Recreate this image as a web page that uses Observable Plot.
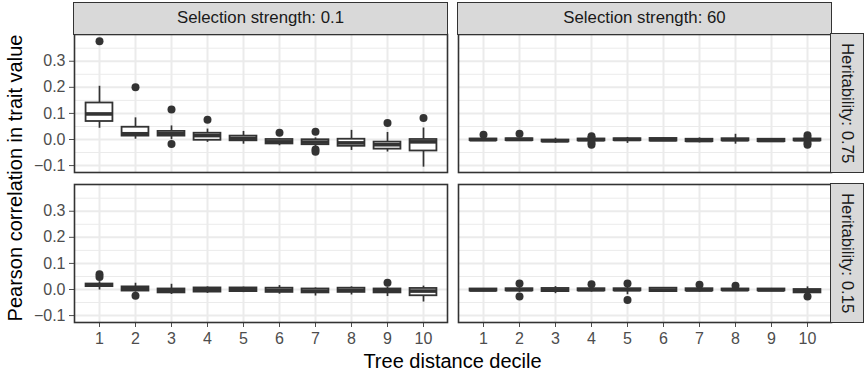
<!DOCTYPE html>
<html><head><meta charset="utf-8">
<script src="https://cdn.jsdelivr.net/npm/d3@7"></script>
<script src="https://cdn.jsdelivr.net/npm/@observablehq/plot@0.6"></script>
<style>
body{margin:0;background:#fff;}
#chart{position:relative;width:865px;height:374px;font-family:"Liberation Sans",Arial,sans-serif;overflow:hidden;background:#fff;}
.strip{position:absolute;box-sizing:border-box;background:#D9D9D9;border:1.6px solid #333;color:#1A1A1A;font-size:16.8px;display:flex;align-items:center;justify-content:center;white-space:nowrap;}
.vstrip{writing-mode:vertical-rl;}
.panel{position:absolute;}
.title{position:absolute;font-size:20px;color:#000;white-space:nowrap;line-height:20px;}
</style></head><body><div id="chart"></div>
<script>
// ---------- data ----------
const deciles = [1, 2, 3, 4, 5, 6, 7, 8, 9, 10];
const selectionLabels = ["Selection strength: 0.1", "Selection strength: 60"];
const heritabilityLabels = ["Heritability: 0.75", "Heritability: 0.15"];
const xTitle = "Tree distance decile";
const yTitle = "Pearson correlation in trait value";
const yTicks = [-0.1, 0.0, 0.1, 0.2, 0.3];
const yMinorTicks = [-0.05, 0.05, 0.15, 0.25, 0.35];
const yDomain = [-0.1265, 0.4025];

// Selection 0.1, heritability 0.75
const s01h75Lower  = [0.043, 0.001, -0.001, -0.011, -0.018, -0.024, -0.028, -0.042, -0.048, -0.106];
const s01h75Q1     = [0.069, 0.013, 0.013, -0.003, -0.005, -0.017, -0.020, -0.026, -0.037, -0.044];
const s01h75Median = [0.098, 0.022, 0.022, 0.015, 0.004, -0.009, -0.010, -0.013, -0.020, -0.009];
const s01h75Q3     = [0.140, 0.047, 0.031, 0.024, 0.013, 0.000, -0.001, 0.001, -0.010, 0.000];
const s01h75Upper  = [0.204, 0.083, 0.052, 0.040, 0.031, 0.003, 0.006, 0.035, 0.027, 0.044];
const s01h75OutDecile = [1, 2, 3, 3, 4, 6, 7, 7, 7, 9, 10];
const s01h75OutValue  = [0.377, 0.200, 0.115, -0.017, 0.076, 0.026, 0.030, -0.038, -0.047, 0.063, 0.082];

// Selection 60, heritability 0.75
const s60h75Lower  = [-0.006, -0.007, -0.015, -0.010, -0.015, -0.007, -0.013, -0.018, -0.010, -0.008];
const s60h75Q1     = [-0.004, -0.004, -0.009, -0.005, -0.004, -0.006, -0.008, -0.005, -0.008, -0.005];
const s60h75Median = [-0.001, 0.000, -0.005, -0.001, 0.000, -0.001, -0.004, -0.001, -0.004, -0.001];
const s60h75Q3     = [0.002, 0.003, -0.002, 0.002, 0.003, 0.004, 0.001, 0.003, 0.001, 0.002];
const s60h75Upper  = [0.004, 0.006, 0.005, 0.008, 0.008, 0.005, 0.006, 0.020, 0.003, 0.006];
const s60h75OutDecile = [1, 2, 4, 4, 4, 4, 10, 10, 10, 10];
const s60h75OutValue  = [0.018, 0.022, 0.012, 0.006, -0.012, -0.020, 0.016, 0.006, -0.012, -0.020];

// Selection 0.1, heritability 0.15
const s01h15Lower  = [-0.002, -0.010, -0.019, -0.015, -0.012, -0.018, -0.025, -0.021, -0.027, -0.048];
const s01h15Q1     = [0.011, -0.006, -0.013, -0.010, -0.008, -0.011, -0.013, -0.011, -0.013, -0.024];
const s01h15Median = [0.017, 0.003, -0.005, -0.001, 0.000, -0.003, -0.006, -0.003, -0.005, -0.006];
const s01h15Q3     = [0.021, 0.010, 0.002, 0.006, 0.006, 0.005, 0.002, 0.005, 0.002, 0.004];
const s01h15Upper  = [0.030, 0.024, 0.020, 0.010, 0.009, 0.015, 0.006, 0.010, 0.009, 0.013];
const s01h15OutDecile = [1, 1, 2, 9];
const s01h15OutValue  = [0.058, 0.048, -0.024, 0.026];

// Selection 60, heritability 0.15
const s60h15Lower  = [-0.008, -0.012, -0.016, -0.010, -0.020, -0.010, -0.010, -0.007, -0.008, -0.018];
const s60h15Q1     = [-0.006, -0.005, -0.008, -0.005, -0.005, -0.008, -0.005, -0.004, -0.005, -0.013];
const s60h15Median = [-0.002, -0.001, -0.002, -0.001, -0.001, -0.002, -0.002, -0.001, -0.002, -0.005];
const s60h15Q3     = [0.002, 0.003, 0.004, 0.003, 0.003, 0.005, 0.003, 0.002, 0.002, 0.000];
const s60h15Upper  = [0.003, 0.010, 0.011, 0.008, 0.012, 0.006, 0.008, 0.006, 0.004, 0.010];
const s60h15OutDecile = [2, 2, 4, 5, 5, 7, 8, 10];
const s60h15OutValue  = [0.023, -0.027, 0.020, 0.023, -0.040, 0.018, 0.014, -0.027];

// ---------- layout ----------
const PW = 373, PH = 138;
const colX = [74, 458];
const rowY = [34, 184];
const INK = "#333333", GRID = "#EBEBEB";

function rows(lo, q1, med, q3, hi) {
  return deciles.map((d, i) => ({decile: d, lo: lo[i], q1: q1[i], med: med[i], q3: q3[i], hi: hi[i]}));
}
function outs(ds, vs) { return ds.map((d, i) => ({decile: d, v: vs[i]})); }

const panels = [
  {col: 0, row: 0, box: rows(s01h75Lower, s01h75Q1, s01h75Median, s01h75Q3, s01h75Upper), out: outs(s01h75OutDecile, s01h75OutValue)},
  {col: 1, row: 0, box: rows(s60h75Lower, s60h75Q1, s60h75Median, s60h75Q3, s60h75Upper), out: outs(s60h75OutDecile, s60h75OutValue)},
  {col: 0, row: 1, box: rows(s01h15Lower, s01h15Q1, s01h15Median, s01h15Q3, s01h15Upper), out: outs(s01h15OutDecile, s01h15OutValue)},
  {col: 1, row: 1, box: rows(s60h15Lower, s60h15Q1, s60h15Median, s60h15Q3, s60h15Upper), out: outs(s60h15OutDecile, s60h15OutValue)}
];

const chart = document.getElementById("chart");
const inset = PW / 10.2 * 0.125;

for (const p of panels) {
  const showY = p.col === 0, showX = p.row === 1;
  const mL = showY ? 74 : 4, mT = 4, mR = 4, mB = showX ? 44 : 4;
  const svg = Plot.plot({
    width: mL + PW + mR,
    height: mT + PH + mB,
    marginLeft: mL, marginRight: mR, marginTop: mT, marginBottom: mB,
    style: {fontSize: "16px", fontFamily: "'Liberation Sans', Arial, sans-serif", color: "#4D4D4D", background: "transparent", overflow: "visible"},
    x: {type: "band", domain: deciles, paddingInner: 0, paddingOuter: 0.1, axis: showX ? "bottom" : null, tickSize: 5, tickPadding: 5, label: null},
    y: {domain: yDomain, axis: showY ? "left" : null, ticks: yTicks, tickFormat: d3.format(".1f"), tickSize: 5, tickPadding: 4, label: null},
    marks: [
      Plot.ruleY(yMinorTicks, {stroke: GRID, strokeWidth: 1}),
      Plot.ruleY(yTicks, {stroke: GRID, strokeWidth: 2}),
      Plot.ruleX(deciles, {x: d => d, stroke: GRID, strokeWidth: 2}),
      Plot.ruleX(p.box, {x: "decile", y1: "lo", y2: "hi", stroke: INK, strokeWidth: 1.7}),
      Plot.barY(p.box, {x: "decile", y1: "q1", y2: "q3", fill: "white", stroke: INK, strokeWidth: 1.8, insetLeft: inset, insetRight: inset}),
      Plot.tickY(p.box, {x: "decile", y: "med", stroke: INK, strokeWidth: 3.6, insetLeft: inset, insetRight: inset}),
      Plot.dot(p.out, {x: "decile", y: "v", r: 4, fill: INK, stroke: null}),
      Plot.frame({stroke: INK, strokeWidth: 1.6})
    ]
  });
  svg.classList.add("panel");
  svg.style.left = (colX[p.col] - mL) + "px";
  svg.style.top = (rowY[p.row] - mT) + "px";
  chart.appendChild(svg);
}

// strips
selectionLabels.forEach((t, i) => {
  const d = document.createElement("div");
  d.className = "strip";
  d.style.left = (colX[i] - 0.8) + "px";
  d.style.top = "2.2px";
  d.style.width = (PW + 1.6) + "px";
  d.style.height = (31 + 1.6) + "px";
  d.textContent = t;
  chart.appendChild(d);
});
heritabilityLabels.forEach((t, i) => {
  const d = document.createElement("div");
  d.className = "strip vstrip";
  d.style.left = (colX[1] + PW - 0.8) + "px";
  d.style.top = (rowY[i] - 0.8) + "px";
  d.style.width = (32 + 1.6) + "px";
  d.style.height = (PH + 1.6) + "px";
  d.textContent = t;
  chart.appendChild(d);
});

// axis titles
const xt = document.createElement("div");
xt.className = "title";
xt.textContent = xTitle;
xt.style.left = ((colX[0] + colX[1] + PW) / 2) + "px";
xt.style.top = "351px";
xt.style.transform = "translateX(-50%)";
chart.appendChild(xt);

const yt = document.createElement("div");
yt.className = "title";
yt.textContent = yTitle;
yt.style.left = "15px";
yt.style.top = ((rowY[0] + rowY[1] + PH) / 2) + "px";
yt.style.transform = "translate(-50%,-50%) rotate(-90deg)";
chart.appendChild(yt);
</script></body></html>
